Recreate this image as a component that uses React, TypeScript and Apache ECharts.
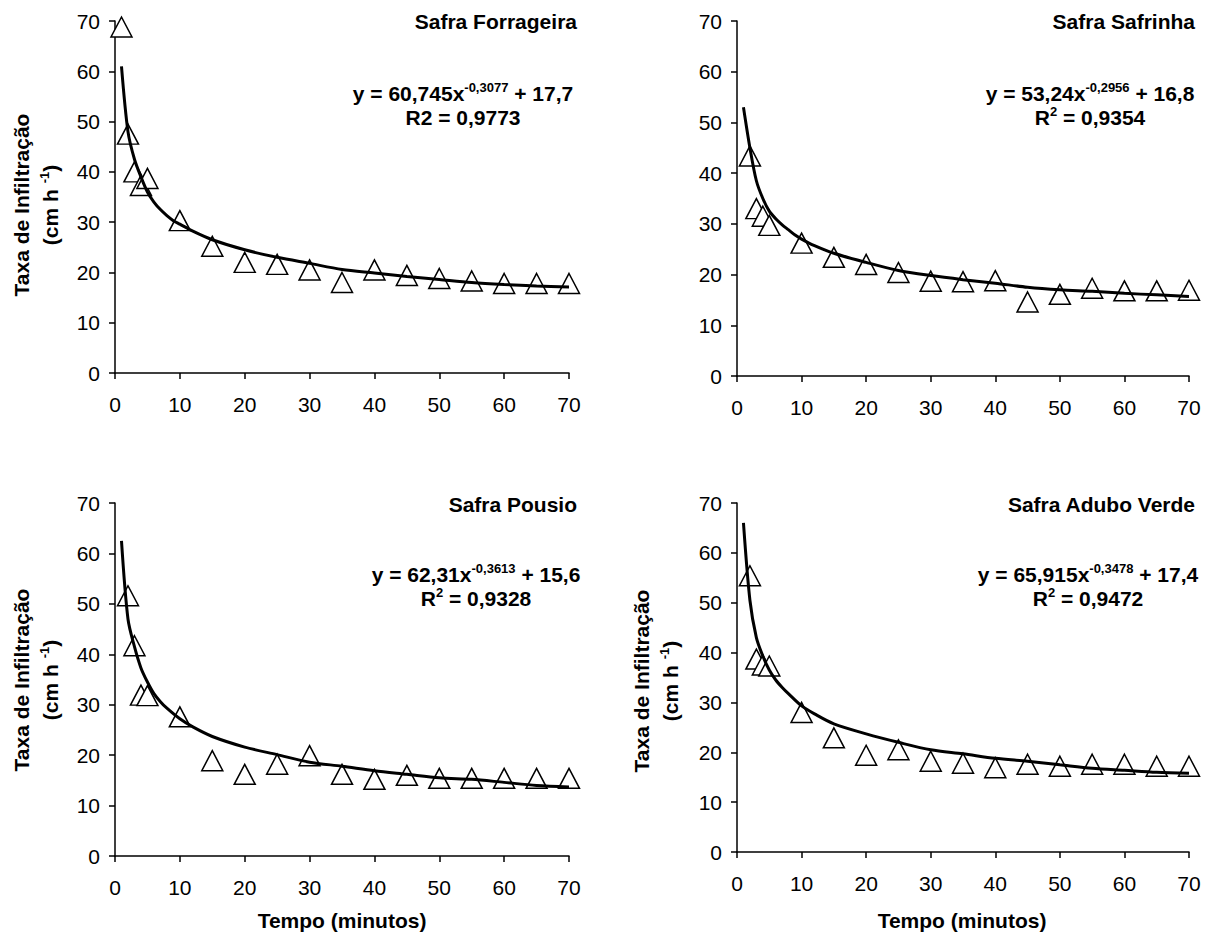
import React, { useEffect, useRef } from "react";
import * as echarts from "echarts";

// ---------- DATA ----------
const panelTitles = ["Safra Forrageira", "Safra Safrinha", "Safra Pousio", "Safra Adubo Verde"];
const eqCoef = ["60,745", "53,24", "62,31", "65,915"];
const eqExp = ["-0,3077", "-0,2956", "-0,3613", "-0,3478"];
const eqConst = ["17,7", "16,8", "15,6", "17,4"];
const r2Values = ["0,9773", "0,9354", "0,9328", "0,9472"];
const r2Superscript = [false, true, true, true];

const xTickLabels = [0, 10, 20, 30, 40, 50, 60, 70];

// observed points (triangles)
const forrageiraObsX = [1, 2, 3, 4, 5, 10, 15, 20, 25, 30, 35, 40, 45, 50, 55, 60, 65, 70];
const forrageiraObsY = [68.8, 47.5, 40, 37.3, 38.7, 30.3, 25.2, 22, 21.6, 20.5, 18, 20.5, 19.4, 18.8, 18.3, 17.8, 17.8, 17.8];
const safrinhaObsX = [2, 3, 4, 5, 10, 15, 20, 25, 30, 35, 40, 45, 50, 55, 60, 65, 70];
const safrinhaObsY = [43.4, 33, 31.5, 29.7, 26.2, 23.4, 22, 20.4, 18.7, 18.6, 18.8, 14.6, 16.1, 17.3, 16.8, 16.8, 16.9];
const pousioObsX = [2, 3, 4, 5, 10, 15, 20, 25, 30, 35, 40, 45, 50, 55, 60, 65, 70];
const pousioObsY = [51.6, 41.7, 31.9, 31.8, 27.6, 18.9, 16.2, 18.2, 19.9, 16.2, 15.2, 16, 15.4, 15.4, 15.4, 15.4, 15.4];
const aduboObsX = [2, 3, 4, 5, 10, 15, 20, 25, 30, 35, 40, 45, 50, 55, 60, 65, 70];
const aduboObsY = [55.4, 38.7, 37.5, 37.3, 28, 22.9, 19.4, 20.5, 18.2, 17.8, 16.9, 17.6, 17.2, 17.6, 17.6, 17.2, 17.2];

// fitted curves
const forrageiraFitX = [1, 2, 3, 4, 5, 6, 7, 8, 9, 10, 12, 15, 20, 25, 30, 35, 40, 45, 50, 55, 60, 65, 70];
const forrageiraFitY = [61, 48, 42.5, 39, 36, 34, 32.5, 31.3, 30.3, 29.6, 28.2, 26.5, 24.5, 23, 21.8, 20.6, 19.9, 19.2, 18.6, 18, 17.6, 17.3, 17.1];
const safrinhaFitX = [1, 2, 3, 4, 5, 6, 7, 8, 9, 10, 12, 15, 20, 25, 30, 35, 40, 45, 50, 55, 60, 65, 70];
const safrinhaFitY = [53, 45, 38.5, 35, 32.5, 31, 29.8, 28.8, 27.8, 27, 25.7, 24.2, 22.4, 20.8, 19.8, 19, 18.3, 17.5, 17, 16.7, 16.3, 16, 15.7];
const pousioFitX = [1, 2, 3, 4, 5, 6, 7, 8, 10, 12, 15, 20, 25, 30, 35, 40, 45, 50, 55, 60, 65, 70];
const pousioFitY = [62.5, 47, 41.5, 37.3, 34.5, 32.2, 30.6, 29.3, 27.2, 25.6, 23.7, 21.6, 20.1, 18.6, 17.8, 16.9, 16.2, 15.5, 15.2, 14.6, 14, 13.7];
const aduboFitX = [1, 2, 3, 4, 5, 6, 7, 8, 10, 12, 15, 20, 25, 30, 35, 40, 45, 50, 55, 60, 65, 70];
const aduboFitY = [66, 50.5, 43, 39.3, 36.5, 34.5, 33, 31.7, 29.3, 27.7, 25.7, 23.7, 22, 20.5, 19.7, 18.8, 18.2, 17.5, 16.8, 16.4, 16, 15.8];

const obsX = [forrageiraObsX, safrinhaObsX, pousioObsX, aduboObsX];
const obsY = [forrageiraObsY, safrinhaObsY, pousioObsY, aduboObsY];
const fitX = [forrageiraFitX, safrinhaFitX, pousioFitX, aduboFitX];
const fitY = [forrageiraFitY, safrinhaFitY, pousioFitY, aduboFitY];

const yAxisTitle = "Taxa de Infiltração";
const yAxisUnit = ["(cm h ", "-1", ")"];
const xAxisTitle = "Tempo (minutos)";

// ---------- LAYOUT ----------
const FONT = '"Liberation Sans", Arial, Helvetica, sans-serif';
const grids = [
  { left: 115, top: 21, width: 454, height: 352 },
  { left: 737, top: 21, width: 452, height: 355 },
  { left: 115, top: 503, width: 454, height: 353 },
  { left: 737, top: 503, width: 452, height: 349 },
];
const textPos = [
  { titleR: 577, titleY: 21, eqX: 463, eqY: 93, r2Y: 117 },
  { titleR: 1195, titleY: 21, eqX: 1090, eqY: 93, r2Y: 117 },
  { titleR: 577, titleY: 504, eqX: 476, eqY: 574, r2Y: 598 },
  { titleR: 1195, titleY: 504, eqX: 1088, eqY: 574, r2Y: 598 },
];
const yTitlePos = [
  { x1: 21, x2: 50, cy: 205 },
  null,
  { x1: 21, x2: 50, cy: 680 },
  { x1: 641, x2: 670, cy: 681 },
];
const xTitlePos = [null, null, { x: 342, y: 920 }, { x: 962, y: 920 }];

const mainRich = {
  m: { fontSize: 21, fontWeight: "bold", fontFamily: FONT, lineHeight: 25, fill: "#000" },
  s: { fontSize: 13, fontWeight: "bold", fontFamily: FONT, lineHeight: 12, verticalAlign: "top", fill: "#000" },
};

function buildGraphics() {
  const els: any[] = [];
  for (let i = 0; i < 4; i++) {
    const p = textPos[i];
    els.push({
      type: "text",
      x: p.titleR,
      y: p.titleY,
      style: {
        text: panelTitles[i],
        fontSize: 21,
        fontWeight: "bold",
        fontFamily: FONT,
        fill: "#000",
        textAlign: "right",
        textVerticalAlign: "middle",
      },
    });
    els.push({
      type: "text",
      x: p.eqX,
      y: p.eqY,
      style: {
        text: `{m|y = ${eqCoef[i]}x}{s|${eqExp[i]}}{m| + ${eqConst[i]}}`,
        rich: mainRich,
        fontSize: 21,
        fontWeight: "bold",
        fontFamily: FONT,
        textAlign: "center",
        textVerticalAlign: "middle",
      },
    });
    els.push({
      type: "text",
      x: p.eqX,
      y: p.r2Y,
      style: {
        text: r2Superscript[i]
          ? `{m|R}{s|2}{m| = ${r2Values[i]}}`
          : `{m|R2 = ${r2Values[i]}}`,
        rich: mainRich,
        fontSize: 21,
        fontWeight: "bold",
        fontFamily: FONT,
        textAlign: "center",
        textVerticalAlign: "middle",
      },
    });
    const yt = yTitlePos[i];
    if (yt) {
      els.push({
        type: "text",
        x: yt.x1,
        y: yt.cy,
        rotation: Math.PI / 2,
        style: {
          text: yAxisTitle,
          fontSize: 21,
          fontWeight: "bold",
          fontFamily: FONT,
          fill: "#000",
          textAlign: "center",
          textVerticalAlign: "middle",
        },
      });
      els.push({
        type: "text",
        x: yt.x2,
        y: yt.cy,
        rotation: Math.PI / 2,
        style: {
          text: `{m|${yAxisUnit[0]}}{s|${yAxisUnit[1]}}{m|${yAxisUnit[2]}}`,
          rich: mainRich,
          fontSize: 21,
          fontWeight: "bold",
          fontFamily: FONT,
          textAlign: "center",
          textVerticalAlign: "middle",
        },
      });
    }
    const xt = xTitlePos[i];
    if (xt) {
      els.push({
        type: "text",
        x: xt.x,
        y: xt.y,
        style: {
          text: xAxisTitle,
          fontSize: 21,
          fontWeight: "bold",
          fontFamily: FONT,
          fill: "#000",
          textAlign: "center",
          textVerticalAlign: "middle",
        },
      });
    }
  }
  return els;
}

function buildOption() {
  const axisCommon = {
    type: "value",
    min: 0,
    max: 70,
    interval: 10,
    axisLine: { show: true, onZero: false, lineStyle: { color: "#000", width: 1.5 } },
    axisTick: { show: true, length: 6, lineStyle: { color: "#000", width: 1.5 } },
    splitLine: { show: false },
  };
  const labelStyle = { color: "#000", fontSize: 21, fontFamily: FONT, fontWeight: "normal" };
  const series: any[] = [];
  for (let i = 0; i < 4; i++) {
    series.push({
      type: "scatter",
      xAxisIndex: i,
      yAxisIndex: i,
      data: obsX[i].map((x, k) => [x, obsY[i][k]]),
      symbol: "triangle",
      symbolSize: [21, 20],
      itemStyle: { color: "#fff", borderColor: "#000", borderWidth: 1.5, opacity: 1 },
      z: 2,
    });
    series.push({
      type: "line",
      xAxisIndex: i,
      yAxisIndex: i,
      data: fitX[i].map((x, k) => [x, fitY[i][k]]),
      symbol: "none",
      showSymbol: false,
      smooth: 0.3,
      lineStyle: { color: "#000", width: 3 },
      z: 3,
    });
  }
  return {
    animation: false,
    backgroundColor: "#fff",
    grid: grids.map((g) => ({ ...g })),
    xAxis: grids.map((_, i) => ({
      ...axisCommon,
      gridIndex: i,
      axisLabel: {
        ...labelStyle,
        margin: 21,
        formatter: (v: number) => (xTickLabels.includes(v) ? String(v) : ""),
      },
    })),
    yAxis: grids.map((_, i) => ({
      ...axisCommon,
      gridIndex: i,
      axisLabel: { ...labelStyle, margin: 15 },
    })),
    series,
    graphic: buildGraphics(),
  };
}

export default function App() {
  const ref = useRef<HTMLDivElement>(null);
  useEffect(() => {
    if (!ref.current) return;
    const chart = echarts.init(ref.current, null, { renderer: "svg" });
    chart.setOption(buildOption() as any);
    return () => chart.dispose();
  }, []);
  return (
    <div
      ref={ref}
      style={{ position: "absolute", left: 0, top: 0, width: 1215, height: 934, background: "#fff" }}
    />
  );
}
